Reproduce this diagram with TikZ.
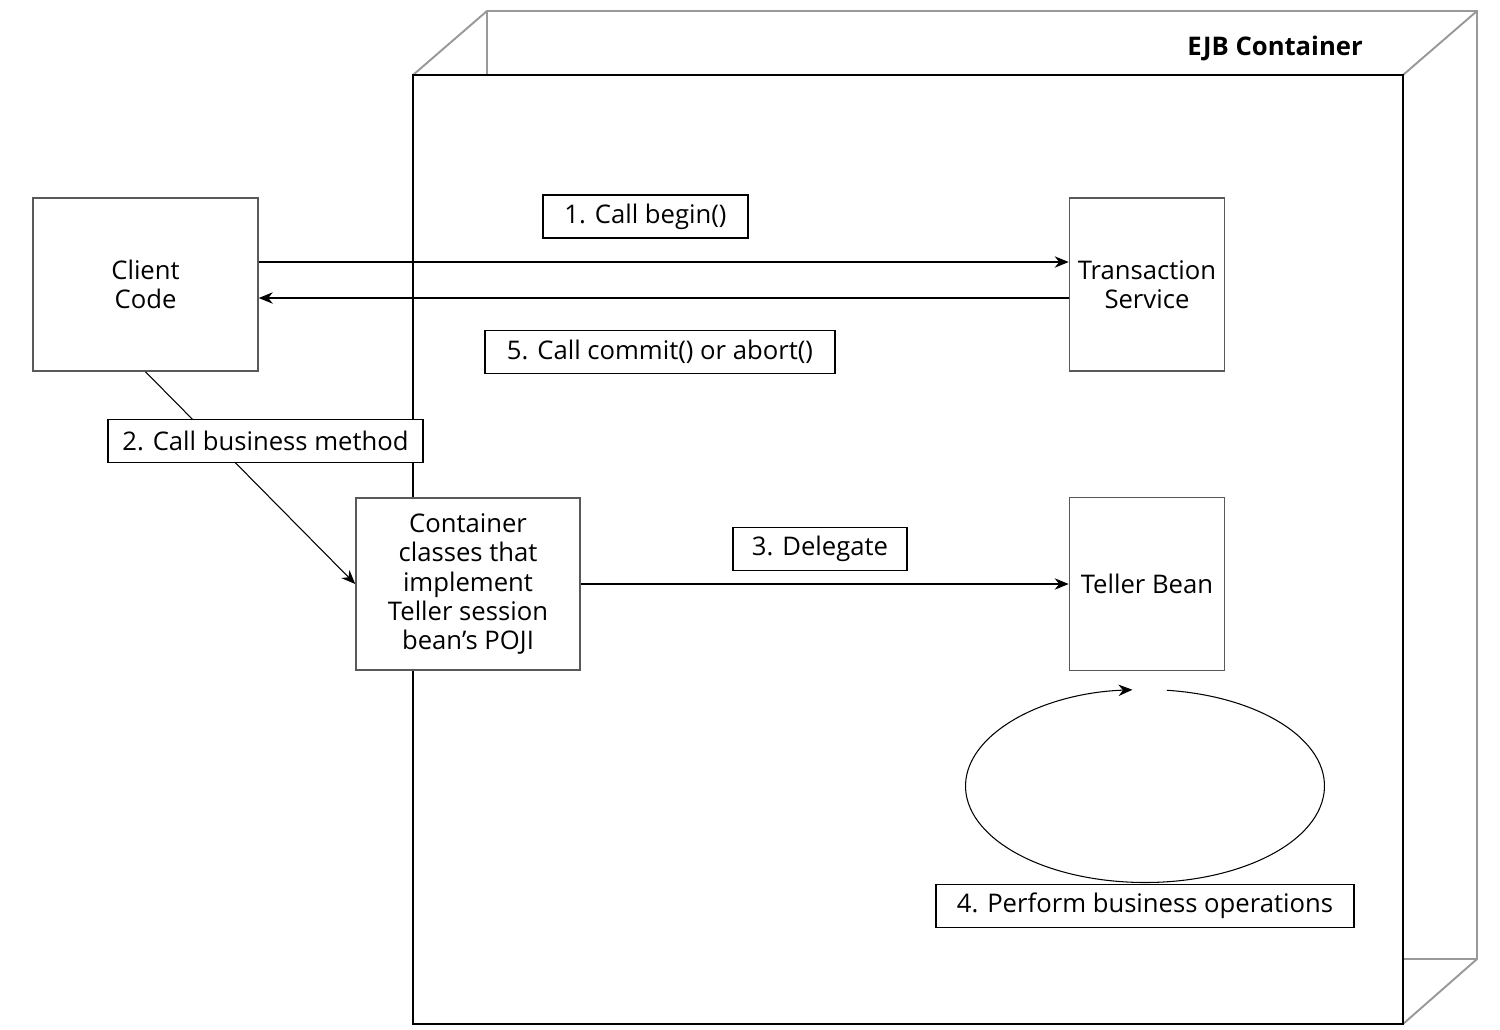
\documentclass[tikz,border=0pt]{standalone}
\usepackage{fontspec}
\setmainfont{Open Sans}
\usetikzlibrary{arrows, arrows.meta, positioning}

\begin{document}
\begin{tikzpicture}[
    x=0.02cm, y=0.02cm,
    font=\fontsize{14.6}{16.6}\selectfont,
    block/.style={rectangle, draw=black!65, line width=0.9pt, fill=white, text centered, align=center, minimum width=3.1cm, minimum height=3.46cm, inner sep=0pt},
    tag/.style={rectangle, draw, line width=0.8pt, fill=white, minimum height=0.86cm, inner xsep=0.2cm, inner ysep=0pt},
    wall/.style={draw=black!40, line width=1.1pt},
    arrow/.style={line width=0.6pt, -{Stealth[length=8pt, width=6.5pt]}}
]
\useasboundingbox (0,0) rectangle (1500,-1029);

% container
\draw[wall] (413,-75) -- (487,-11) -- (1477,-11) -- (1477,-959) -- (1403,-1024);
\draw[wall] (487,-11) -- (487,-75);
\draw[wall] (1403,-75) -- (1477,-11);
\draw[wall] (1403,-959) -- (1477,-959);
\draw[line width=1pt] (413,-75) rectangle (1403,-1024);
\node[font=\fontsize{14.6}{16.6}\selectfont\bfseries] (ejb) at (1275,-48) {EJB Container};

\node[block, minimum width=4.5cm] (client) at (145.5,-284.5) {Client\\Code};
\node[block, minimum width=4.48cm, minimum height=3.44cm] (pojo) at (468,-584) {Container\\classes that\\implement\\Teller session\\bean’s POJI};
\node[block, right=9.76cm of pojo] (teller) {Teller Bean};
\node[block, above=2.5cm of teller] (tx) {Transaction\\Service};

\coordinate (up) at ([yshift=0.45cm]client.east);
\coordinate (down) at ([yshift=-0.27cm]client.east);
\draw[arrow] (up) -- (up -| tx.west);
\draw[arrow] (down -| tx.west) -- (down);
\draw[arrow] (client.south) -- (pojo.west);
\draw[arrow] (pojo) -- (teller);

% loop under the bean
\coordinate (orbit) at (1145,-786);
\draw[arrow] ([shift={(83:3.59cm and 1.93cm)}]orbit) arc[start angle=83, end angle=-266, x radius=3.59cm, y radius=1.93cm];

\node[tag, minimum width=4.1cm] (begin) at (645.5,-216.5) {1. Call begin()};
\node[tag, minimum width=6.3cm] (biz) at (265.5,-441) {2. Call business method};
\node[tag, minimum width=3.48cm] (delegate) at (820,-549) {3. Delegate};
\node[tag, minimum width=8.36cm] (ops) at (1145,-906) {4. Perform business operations};
\node[tag, minimum width=7cm] (commit) at (660,-352) {5. Call commit() or abort()};

\end{tikzpicture}
\end{document}
